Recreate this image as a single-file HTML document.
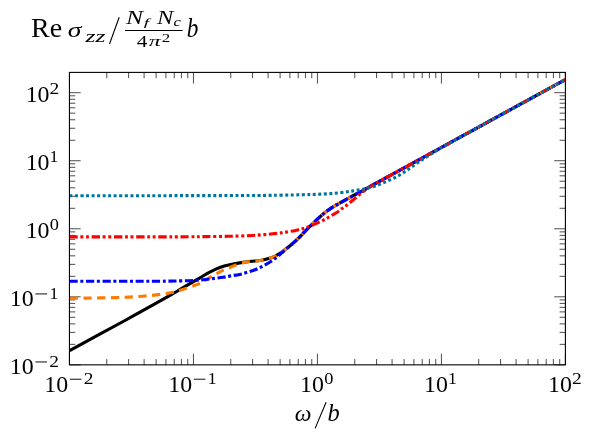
<!DOCTYPE html>
<html><head><meta charset="utf-8"><title>plot</title>
<style>html,body{margin:0;padding:0;background:#fff;}svg{display:block;}.t{font-family:"Liberation Serif",serif;}body{font-family:"Liberation Serif",serif;width:593px;height:439px;overflow:hidden;}</style>
</head><body>
<svg width="593" height="439" viewBox="0 0 593 439">
<rect width="593" height="439" fill="#fff"/>
<path d="M69.45,364.85v-11.20M69.45,72.40v11.20M106.77,364.85v-5.80M106.77,72.40v5.80M128.61,364.85v-5.80M128.61,72.40v5.80M144.10,364.85v-5.80M144.10,72.40v5.80M156.11,364.85v-5.80M156.11,72.40v5.80M165.93,364.85v-5.80M165.93,72.40v5.80M174.23,364.85v-5.80M174.23,72.40v5.80M181.42,364.85v-5.80M181.42,72.40v5.80M187.76,364.85v-5.80M187.76,72.40v5.80M193.44,364.85v-11.20M193.44,72.40v11.20M230.76,364.85v-5.80M230.76,72.40v5.80M252.59,364.85v-5.80M252.59,72.40v5.80M268.09,364.85v-5.80M268.09,72.40v5.80M280.10,364.85v-5.80M280.10,72.40v5.80M289.92,364.85v-5.80M289.92,72.40v5.80M298.22,364.85v-5.80M298.22,72.40v5.80M305.41,364.85v-5.80M305.41,72.40v5.80M311.75,364.85v-5.80M311.75,72.40v5.80M317.43,364.85v-11.20M317.43,72.40v11.20M354.75,364.85v-5.80M354.75,72.40v5.80M376.58,364.85v-5.80M376.58,72.40v5.80M392.07,364.85v-5.80M392.07,72.40v5.80M404.09,364.85v-5.80M404.09,72.40v5.80M413.91,364.85v-5.80M413.91,72.40v5.80M422.21,364.85v-5.80M422.21,72.40v5.80M429.40,364.85v-5.80M429.40,72.40v5.80M435.74,364.85v-5.80M435.74,72.40v5.80M441.41,364.85v-11.20M441.41,72.40v11.20M478.74,364.85v-5.80M478.74,72.40v5.80M500.57,364.85v-5.80M500.57,72.40v5.80M516.06,364.85v-5.80M516.06,72.40v5.80M528.08,364.85v-5.80M528.08,72.40v5.80M537.89,364.85v-5.80M537.89,72.40v5.80M546.19,364.85v-5.80M546.19,72.40v5.80M553.38,364.85v-5.80M553.38,72.40v5.80M559.73,364.85v-5.80M559.73,72.40v5.80M565.40,364.85v-11.20M565.40,72.40v11.20M69.45,364.85h11.20M565.40,364.85h-11.20M69.45,344.37h5.80M565.40,344.37h-5.80M69.45,332.39h5.80M565.40,332.39h-5.80M69.45,323.89h5.80M565.40,323.89h-5.80M69.45,317.29h5.80M565.40,317.29h-5.80M69.45,311.90h5.80M565.40,311.90h-5.80M69.45,307.35h5.80M565.40,307.35h-5.80M69.45,303.40h5.80M565.40,303.40h-5.80M69.45,299.92h5.80M565.40,299.92h-5.80M69.45,296.81h11.20M565.40,296.81h-11.20M69.45,276.33h5.80M565.40,276.33h-5.80M69.45,264.35h5.80M565.40,264.35h-5.80M69.45,255.85h5.80M565.40,255.85h-5.80M69.45,249.25h5.80M565.40,249.25h-5.80M69.45,243.86h5.80M565.40,243.86h-5.80M69.45,239.31h5.80M565.40,239.31h-5.80M69.45,235.36h5.80M565.40,235.36h-5.80M69.45,231.88h5.80M565.40,231.88h-5.80M69.45,228.77h11.20M565.40,228.77h-11.20M69.45,208.29h5.80M565.40,208.29h-5.80M69.45,196.31h5.80M565.40,196.31h-5.80M69.45,187.81h5.80M565.40,187.81h-5.80M69.45,181.21h5.80M565.40,181.21h-5.80M69.45,175.82h5.80M565.40,175.82h-5.80M69.45,171.27h5.80M565.40,171.27h-5.80M69.45,167.32h5.80M565.40,167.32h-5.80M69.45,163.84h5.80M565.40,163.84h-5.80M69.45,160.73h11.20M565.40,160.73h-11.20M69.45,140.25h5.80M565.40,140.25h-5.80M69.45,128.27h5.80M565.40,128.27h-5.80M69.45,119.77h5.80M565.40,119.77h-5.80M69.45,113.17h5.80M565.40,113.17h-5.80M69.45,107.78h5.80M565.40,107.78h-5.80M69.45,103.23h5.80M565.40,103.23h-5.80M69.45,99.28h5.80M565.40,99.28h-5.80M69.45,95.80h5.80M565.40,95.80h-5.80M69.45,92.69h11.20M565.40,92.69h-11.20" stroke="#111" stroke-width="0.75" fill="none"/>
<path d="M69.60,350.60 C74.17,348.10 87.77,340.62 97.00,335.60 C106.23,330.58 115.65,325.62 125.00,320.50 C134.35,315.38 145.60,309.08 153.10,304.90 C160.60,300.72 165.35,298.07 170.00,295.40 C174.65,292.73 177.67,290.87 181.00,288.90 C184.33,286.93 186.83,285.45 190.00,283.60 C193.17,281.75 196.62,279.77 200.00,277.80 C203.38,275.83 206.88,273.57 210.30,271.80 C213.72,270.03 217.08,268.42 220.50,267.20 C223.92,265.98 227.38,265.27 230.80,264.50 C234.22,263.73 237.58,263.13 241.00,262.60 C244.42,262.07 248.08,261.65 251.30,261.30 C254.52,260.95 257.10,261.07 260.30,260.50 C263.50,259.93 267.95,258.68 270.50,257.90 C273.05,257.12 273.88,256.65 275.60,255.80 C277.32,254.95 279.08,253.92 280.80,252.80 C282.52,251.68 284.20,250.40 285.90,249.10 C287.60,247.80 289.28,246.45 291.00,245.00 C292.72,243.55 294.48,242.02 296.20,240.40 C297.92,238.78 299.60,237.03 301.30,235.30 C303.00,233.57 304.90,231.53 306.40,230.00 C307.90,228.47 308.80,227.60 310.30,226.10 C311.80,224.60 313.70,222.63 315.40,221.00 C317.10,219.37 318.80,217.78 320.50,216.30 C322.20,214.82 323.88,213.42 325.60,212.10 C327.32,210.78 329.07,209.55 330.80,208.40 C332.53,207.25 334.30,206.20 336.00,205.20 C337.70,204.20 338.45,203.82 341.00,202.40 C343.55,200.98 348.13,198.42 351.30,196.70 C354.47,194.98 356.55,193.92 360.00,192.05 C363.45,190.18 365.33,189.13 372.00,185.48 C378.67,181.83 388.67,176.35 400.00,170.14 C411.33,163.94 426.67,155.54 440.00,148.24 C453.33,140.93 466.67,133.63 480.00,126.33 C493.33,119.03 505.75,112.23 520.00,104.42 C534.25,96.62 557.92,83.65 565.50,79.50" fill="none" stroke="#000" stroke-width="3.1" stroke-linejoin="round"/>
<path d="M69.60,298.20 C72.17,298.18 79.93,298.15 85.00,298.10 C90.07,298.05 95.00,297.98 100.00,297.90 C105.00,297.82 110.22,297.73 115.00,297.60 C119.78,297.47 124.10,297.33 128.70,297.10 C133.30,296.87 138.00,296.57 142.60,296.20 C147.20,295.83 151.68,295.47 156.30,294.90 C160.92,294.33 165.75,293.75 170.30,292.80 C174.85,291.85 179.20,290.57 183.60,289.20 C188.00,287.83 193.47,285.83 196.70,284.60 C199.93,283.37 200.92,282.92 203.00,281.80 C205.08,280.68 207.20,279.10 209.20,277.90 C211.20,276.70 213.03,275.68 215.00,274.60 C216.97,273.52 219.00,272.42 221.00,271.40 C223.00,270.38 224.90,269.42 227.00,268.50 C229.10,267.58 231.43,266.72 233.60,265.90 C235.77,265.08 237.82,264.25 240.00,263.60 C242.18,262.95 244.82,262.38 246.70,262.00 C248.58,261.62 249.03,261.55 251.30,261.30 C253.57,261.05 257.10,261.07 260.30,260.50 C263.50,259.93 267.95,258.68 270.50,257.90 C273.05,257.12 273.88,256.65 275.60,255.80 C277.32,254.95 279.08,253.92 280.80,252.80 C282.52,251.68 284.20,250.40 285.90,249.10 C287.60,247.80 289.28,246.45 291.00,245.00 C292.72,243.55 294.48,242.02 296.20,240.40 C297.92,238.78 299.60,237.03 301.30,235.30 C303.00,233.57 304.90,231.53 306.40,230.00 C307.90,228.47 308.80,227.60 310.30,226.10 C311.80,224.60 313.70,222.63 315.40,221.00 C317.10,219.37 318.80,217.78 320.50,216.30 C322.20,214.82 323.88,213.42 325.60,212.10 C327.32,210.78 329.07,209.55 330.80,208.40 C332.53,207.25 334.30,206.20 336.00,205.20 C337.70,204.20 338.45,203.82 341.00,202.40 C343.55,200.98 348.13,198.42 351.30,196.70 C354.47,194.98 356.55,193.92 360.00,192.05 C363.45,190.18 365.33,189.13 372.00,185.48 C378.67,181.83 388.67,176.35 400.00,170.14 C411.33,163.94 426.67,155.54 440.00,148.24 C453.33,140.93 466.67,133.63 480.00,126.33 C493.33,119.03 505.75,112.23 520.00,104.42 C534.25,96.62 557.92,83.65 565.50,79.50" fill="none" stroke="#ff7a00" stroke-width="3.1" stroke-linejoin="round" stroke-dasharray="8.3 5.45" stroke-dashoffset="0"/>
<path d="M69.60,281.30 C78.00,281.30 104.93,281.32 120.00,281.30 C135.07,281.28 150.00,281.27 160.00,281.20 C170.00,281.13 174.17,281.03 180.00,280.90 C185.83,280.77 190.67,280.63 195.00,280.40 C199.33,280.17 202.77,279.83 206.00,279.50 C209.23,279.17 211.57,278.77 214.40,278.40 C217.23,278.03 220.27,277.72 223.00,277.30 C225.73,276.88 228.02,276.38 230.80,275.90 C233.58,275.42 236.97,275.00 239.70,274.40 C242.43,273.80 244.55,273.12 247.20,272.30 C249.85,271.48 253.00,270.53 255.60,269.50 C258.20,268.47 260.32,267.38 262.80,266.10 C265.28,264.82 268.18,263.28 270.50,261.80 C272.82,260.32 274.87,258.63 276.70,257.20 C278.53,255.77 279.97,254.55 281.50,253.20 C283.03,251.85 284.32,250.47 285.90,249.10 C287.48,247.73 289.28,246.45 291.00,245.00 C292.72,243.55 294.48,242.02 296.20,240.40 C297.92,238.78 299.60,237.03 301.30,235.30 C303.00,233.57 304.90,231.53 306.40,230.00 C307.90,228.47 308.80,227.60 310.30,226.10 C311.80,224.60 313.70,222.63 315.40,221.00 C317.10,219.37 318.80,217.78 320.50,216.30 C322.20,214.82 323.88,213.42 325.60,212.10 C327.32,210.78 329.07,209.55 330.80,208.40 C332.53,207.25 334.30,206.20 336.00,205.20 C337.70,204.20 338.45,203.82 341.00,202.40 C343.55,200.98 348.13,198.42 351.30,196.70 C354.47,194.98 356.55,193.92 360.00,192.05 C363.45,190.18 365.33,189.13 372.00,185.48 C378.67,181.83 388.67,176.35 400.00,170.14 C411.33,163.94 426.67,155.54 440.00,148.24 C453.33,140.93 466.67,133.63 480.00,126.33 C493.33,119.03 505.75,112.23 520.00,104.42 C534.25,96.62 557.92,83.65 565.50,79.50" fill="none" stroke="#0000ff" stroke-width="3.1" stroke-linejoin="round" stroke-dasharray="8.2 2.6 3.0 2.65" stroke-dashoffset="0"/>
<path d="M69.60,236.90 C83.00,236.90 129.93,236.92 150.00,236.90 C170.07,236.88 180.67,236.85 190.00,236.80 C199.33,236.75 199.55,236.68 206.00,236.60 C212.45,236.52 221.32,236.47 228.70,236.30 C236.08,236.13 244.35,235.88 250.30,235.60 C256.25,235.32 260.62,234.90 264.40,234.60 C268.18,234.30 270.27,234.08 273.00,233.80 C275.73,233.52 278.57,233.18 280.80,232.90 C283.03,232.62 283.93,232.52 286.40,232.10 C288.87,231.68 292.92,230.97 295.60,230.40 C298.28,229.83 300.43,229.28 302.50,228.70 C304.57,228.12 305.85,227.72 308.00,226.90 C310.15,226.08 312.90,224.90 315.40,223.80 C317.90,222.70 320.87,221.35 323.00,220.30 C325.13,219.25 326.05,218.72 328.20,217.50 C330.35,216.28 333.60,214.48 335.90,213.00 C338.20,211.52 340.20,209.90 342.00,208.60 C343.80,207.30 344.90,206.60 346.70,205.20 C348.50,203.80 350.72,201.93 352.80,200.20 C354.88,198.47 357.27,196.37 359.20,194.80 C361.13,193.23 362.52,192.18 364.40,190.80 C366.28,189.42 364.57,189.94 370.50,186.50 C376.43,183.06 388.42,176.52 400.00,170.14 C411.58,163.77 426.67,155.54 440.00,148.24 C453.33,140.93 466.67,133.63 480.00,126.33 C493.33,119.03 505.75,112.23 520.00,104.42 C534.25,96.62 557.92,83.65 565.50,79.50" fill="none" stroke="#ff0000" stroke-width="3.1" stroke-linejoin="round" stroke-dasharray="8.3 2.68 2.9 2.68 2.9 2.68" stroke-dashoffset="0"/>
<path d="M69.60,195.70 C83.00,195.70 119.93,195.73 150.00,195.70 C180.07,195.67 228.33,195.58 250.00,195.50 C271.67,195.42 271.17,195.33 280.00,195.20 C288.83,195.07 296.67,194.85 303.00,194.70 C309.33,194.55 313.37,194.48 318.00,194.30 C322.63,194.12 327.13,193.87 330.80,193.60 C334.47,193.33 337.27,193.00 340.00,192.70 C342.73,192.40 345.07,192.10 347.20,191.80 C349.33,191.50 350.97,191.22 352.80,190.90 C354.63,190.58 356.37,190.22 358.20,189.90 C360.03,189.58 362.00,189.35 363.80,189.00 C365.60,188.65 367.20,188.27 369.00,187.80 C370.80,187.33 372.82,186.77 374.60,186.20 C376.38,185.63 377.98,185.07 379.70,184.40 C381.42,183.73 383.18,182.95 384.90,182.20 C386.62,181.45 388.30,180.68 390.00,179.90 C391.70,179.12 393.48,178.32 395.10,177.50 C396.72,176.68 398.13,175.92 399.70,175.00 C401.27,174.08 403.00,173.00 404.50,172.00 C406.00,171.00 407.23,170.03 408.70,169.00 C410.17,167.97 411.77,166.87 413.30,165.80 C414.83,164.73 416.35,163.67 417.90,162.60 C419.45,161.53 421.05,160.42 422.60,159.40 C424.15,158.38 425.50,157.57 427.20,156.50 C428.90,155.43 431.18,154.02 432.80,153.00 C434.42,151.98 434.87,151.63 436.90,150.40 C438.93,149.17 437.82,149.61 445.00,145.60 C452.18,141.59 467.50,133.19 480.00,126.33 C492.50,119.47 505.75,112.23 520.00,104.42 C534.25,96.62 557.92,83.65 565.50,79.50" fill="none" stroke="#00759b" stroke-width="3.1" stroke-linejoin="round" stroke-dasharray="3 2.525" stroke-dashoffset="0"/>
<rect x="69.45" y="72.40" width="495.95" height="292.45" fill="none" stroke="#000" stroke-width="1.1"/>
<g class="t" fill="#000" opacity="0.999">
<text transform="translate(44.30,391.68) scale(0.2391,0.2237)" font-size="100">10</text><rect x="69.85" y="378.73" width="11.6" height="0.95"/><text transform="translate(83.77,383.80) scale(0.1950,0.1606)" font-size="100">2</text>
<text transform="translate(168.29,391.68) scale(0.2391,0.2237)" font-size="100">10</text><rect x="193.84" y="378.73" width="11.6" height="0.95"/><text transform="translate(207.84,383.80) scale(0.1771,0.1618)" font-size="100">1</text>
<text transform="translate(300.07,391.68) scale(0.2391,0.2237)" font-size="100">10</text><text transform="translate(324.14,383.64) scale(0.1833,0.1570)" font-size="100">0</text>
<text transform="translate(424.06,391.68) scale(0.2391,0.2237)" font-size="100">10</text><text transform="translate(448.02,383.80) scale(0.1771,0.1618)" font-size="100">1</text>
<text transform="translate(548.05,391.68) scale(0.2391,0.2237)" font-size="100">10</text><text transform="translate(571.92,383.80) scale(0.1950,0.1606)" font-size="100">2</text>
<text transform="translate(9.85,374.43) scale(0.2391,0.2237)" font-size="100">10</text><rect x="35.40" y="361.48" width="11.6" height="0.95"/><text transform="translate(49.32,366.55) scale(0.1950,0.1606)" font-size="100">2</text>
<text transform="translate(9.85,306.39) scale(0.2391,0.2237)" font-size="100">10</text><rect x="35.40" y="293.44" width="11.6" height="0.95"/><text transform="translate(49.41,298.51) scale(0.1771,0.1618)" font-size="100">1</text>
<text transform="translate(25.65,238.35) scale(0.2391,0.2237)" font-size="100">10</text><text transform="translate(49.72,230.31) scale(0.1833,0.1570)" font-size="100">0</text>
<text transform="translate(25.65,170.31) scale(0.2391,0.2237)" font-size="100">10</text><text transform="translate(49.61,162.43) scale(0.1771,0.1618)" font-size="100">1</text>
<text transform="translate(25.65,102.27) scale(0.2391,0.2237)" font-size="100">10</text><text transform="translate(49.52,94.39) scale(0.1950,0.1606)" font-size="100">2</text>
<text transform="translate(294.67,421.26) scale(0.2368,0.2358)" font-size="100" font-style="italic">ω</text>
<path d="M315.1,428.4L326.1,402.3" stroke="#000" stroke-width="1.1" fill="none"/>
<text transform="translate(327.42,421.25) scale(0.2442,0.2529)" font-size="100" font-style="italic">b</text>
<text transform="translate(31.06,36.93) scale(0.2794,0.2682)" font-size="100">Re</text>
<text transform="translate(67.67,37.09) scale(0.2768,0.2133)" font-size="100" font-style="italic">σ</text>
<text transform="translate(85.56,41.50) scale(0.2568,0.1761)" font-size="100" font-style="italic">zz</text>
<path d="M109.5,44.0L119.2,17.3" stroke="#000" stroke-width="1.1" fill="none"/>
<text transform="translate(126.03,23.50) scale(0.2559,0.1938)" font-size="100" font-style="italic">N</text>
<text transform="translate(143.71,26.43) scale(0.1947,0.0984)" font-size="100" font-style="italic">f</text>
<text transform="translate(156.92,23.50) scale(0.2448,0.1938)" font-size="100" font-style="italic">N</text>
<text transform="translate(173.50,25.57) scale(0.1654,0.1271)" font-size="100" font-style="italic">c</text>
<rect x="125" y="30.0" width="57.6" height="1.0"/>
<text transform="translate(136.67,46.58) scale(0.2129,0.1677)" font-size="100">4</text>
<text transform="translate(148.78,46.46) scale(0.2404,0.1355)" font-size="100" font-style="italic">π</text>
<text transform="translate(161.73,42.20) scale(0.1700,0.1152)" font-size="100">2</text>
<text transform="translate(186.67,37.33) scale(0.2326,0.2686)" font-size="100" font-style="italic">b</text>
</g>
</svg>
</body></html>
